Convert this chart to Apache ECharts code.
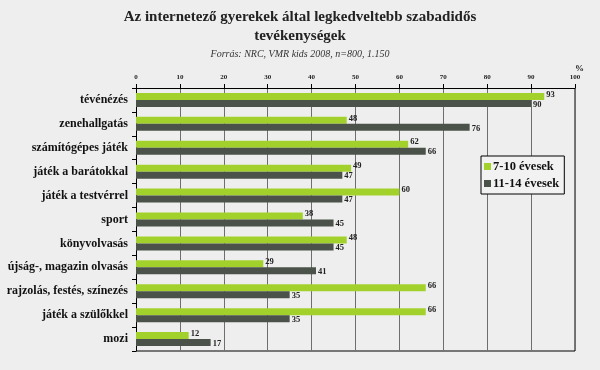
<!DOCTYPE html>
<html><head><meta charset="utf-8">
<script src="https://cdn.jsdelivr.net/npm/echarts@6/dist/echarts.min.js"></script>
<style>html,body{margin:0;padding:0;background:#eeeeee;}#c{width:600px;height:370px;}</style>
</head><body><div id="c"></div>
<script>
const categories = ["tévénézés","zenehallgatás","számítógépes játék","játék a barátokkal","játék a testvérrel","sport","könyvolvasás","újság-, magazin olvasás","rajzolás, festés, színezés","játék a szülőkkel","mozi"];
const age7to10 = [93,48,62,49,60,38,48,29,66,66,12];
const age11to14 = [90,76,66,47,47,45,45,41,35,35,17];
const seriesNames = ["7-10 évesek","11-14 évesek"];
const xTicks = [0,10,20,30,40,50,60,70,80,90,100];

const serif = "'Liberation Serif', 'DejaVu Serif', serif";
const chart = echarts.init(document.getElementById('c'));
chart.setOption({
  backgroundColor: '#eeeeee',
  animation: false,
  title: [{
    text: 'Az internetező gyerekek által legkedveltebb szabadidős\ntevékenységek',
    left: 'center', top: 3,
    textStyle: {fontFamily: serif, fontSize: 15, fontWeight: 'bold', color: '#222', lineHeight: 19}
  },{
    text: 'Forrás: NRC, VMR kids 2008, n=800, 1.150',
    left: 'center', top: 44,
    textStyle: {fontFamily: serif, fontSize: 10, fontStyle: 'italic', fontWeight: 'normal', color: '#333'}
  },{
    text: '%', left: 570, top: 59,
    textStyle: {fontFamily: serif, fontSize: 9, fontWeight: 'bold', color: '#222'}
  }],
  legend: {
    orient: 'vertical', left: 481, top: 156,
    backgroundColor: '#f2f2f2', borderColor: '#000', borderWidth: 1,
    padding: [4,5,4,3], itemGap: 4,
    itemWidth: 7, itemHeight: 7, icon: 'rect',
    textStyle: {fontFamily: serif, fontSize: 12.5, fontWeight: 'bold', color: '#111', padding:[0,0,0,-3]},
    data: seriesNames
  },
  grid: {left: 136, right: 25, top: 88, bottom: 19},
  xAxis: {
    type: 'value', position: 'top', min: 0, max: 100, interval: 10,
    axisLine: {show: true, lineStyle: {color: '#000', width: 1}},
    axisTick: {show: true, inside: false, length: 4, lineStyle: {color: '#000'}},
    axisLabel: {fontFamily: serif, fontSize: 7, fontWeight: 'bold', color: '#222', margin: 7,
      formatter: v => xTicks.includes(v) ? String(v) : ''},
    splitLine: {show: true, lineStyle: {color: '#6e6e6e', width: 1}}
  },
  yAxis: {
    type: 'category', data: categories, inverse: true,
    axisLine: {show: true, lineStyle: {color: '#000'}},
    axisTick: {show: true, length: 4, lineStyle: {color: '#000'}},
    axisLabel: {fontFamily: serif, fontSize: 12, fontWeight: 'bold', color: '#111', margin: 8}
  },
  graphic: [
    {type:'line', shape:{x1:575, y1:88, x2:575, y2:351}, style:{stroke:'#000', lineWidth:1}},
    {type:'line', shape:{x1:136, y1:351, x2:575, y2:351}, style:{stroke:'#000', lineWidth:1}}
  ],
  series: [
    {name: seriesNames[0], type: 'bar', data: age7to10, barWidth: 7, barGap: '0%',
      itemStyle: {color: '#a3d12c'},
      label: {show: true, position: 'right', distance: 2, offset:[0,-2], fontFamily: serif, fontSize: 8.5, fontWeight: 'bold', color: '#222'}},
    {name: seriesNames[1], type: 'bar', data: age11to14, barWidth: 7, barGap: '0%',
      itemStyle: {color: '#4b5249'},
      label: {show: true, position: 'right', distance: 2, offset:[0,1], fontFamily: serif, fontSize: 8.5, fontWeight: 'bold', color: '#222'}}
  ]
});
</script></body></html>
